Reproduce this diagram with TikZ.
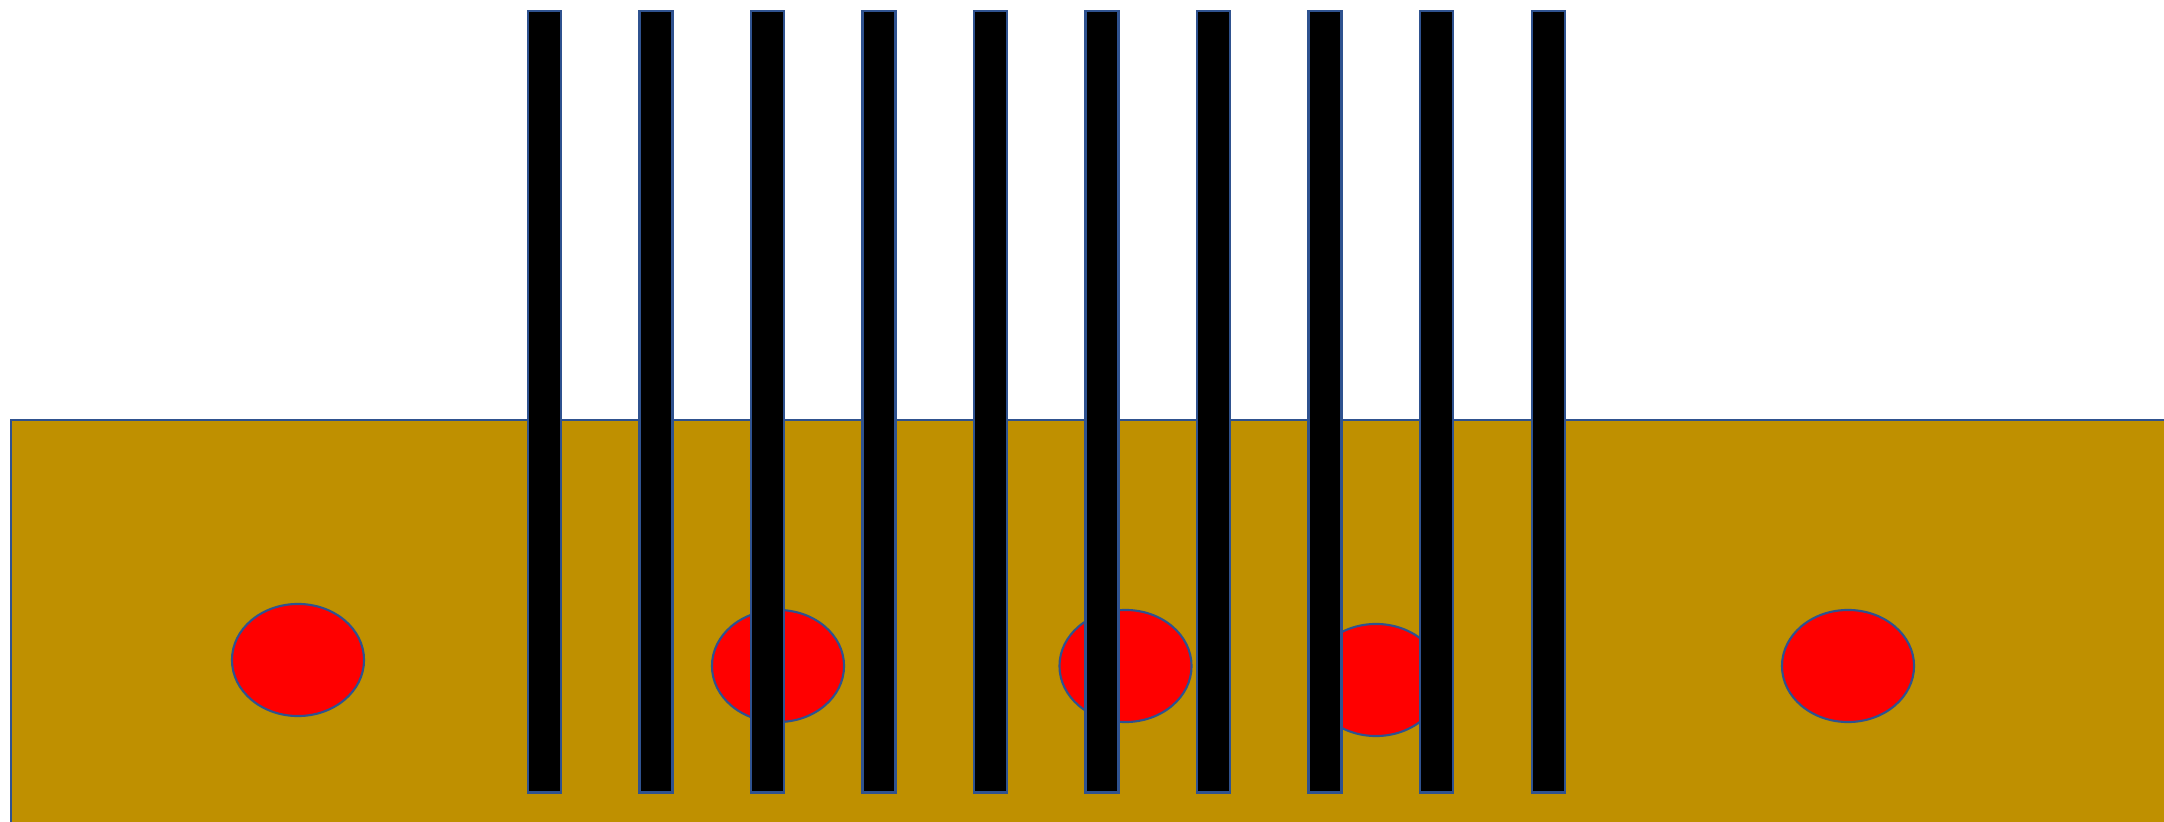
\documentclass[tikz,border=0pt]{standalone}
\usetikzlibrary{shapes.geometric}
\definecolor{soil}{HTML}{BF9000}
\definecolor{edgeblue}{HTML}{2F528F}
\definecolor{ballred}{HTML}{FF0000}
\tikzset{
  ball/.style={ellipse, draw=edgeblue, fill=ballred, line width=0.6pt,
    minimum width=1.32cm, minimum height=1.12cm, inner sep=0pt, outer sep=0pt},
  rod/.style={rectangle, draw=edgeblue, fill=black, line width=0.6pt,
    minimum width=0.33cm, minimum height=7.81cm, inner sep=0pt, outer sep=0pt, anchor=north west}
}
\begin{document}
\begin{tikzpicture}[x=0.01cm, y=-0.01cm]
  \useasboundingbox (0,0) rectangle (2164,822);
  \clip (0,0) rectangle (2164,822);
  \fill[white] (0,0) rectangle (2164,822);
  % ground
  \draw[draw=edgeblue, fill=soil, line width=0.6pt] (11,420) rectangle (2190,850);
  % balls
  \node[ball] (b1) at (298,660) {};
  \node[ball] (b2) at (778,666) {};
  \node[ball] (b3) at (1125.5,666) {};
  \node[ball] (b4) at (1376,680) {};
  \node[ball] (b5) at (1848,666) {};
  % rods
  \foreach \i/\x in {1/528,2/639.5,3/751,4/862.5,5/974,6/1085.5,7/1197,8/1308.5,9/1420,10/1532}{
    \node[rod] (r\i) at (\x,11) {};
  }
\end{tikzpicture}
\end{document}
